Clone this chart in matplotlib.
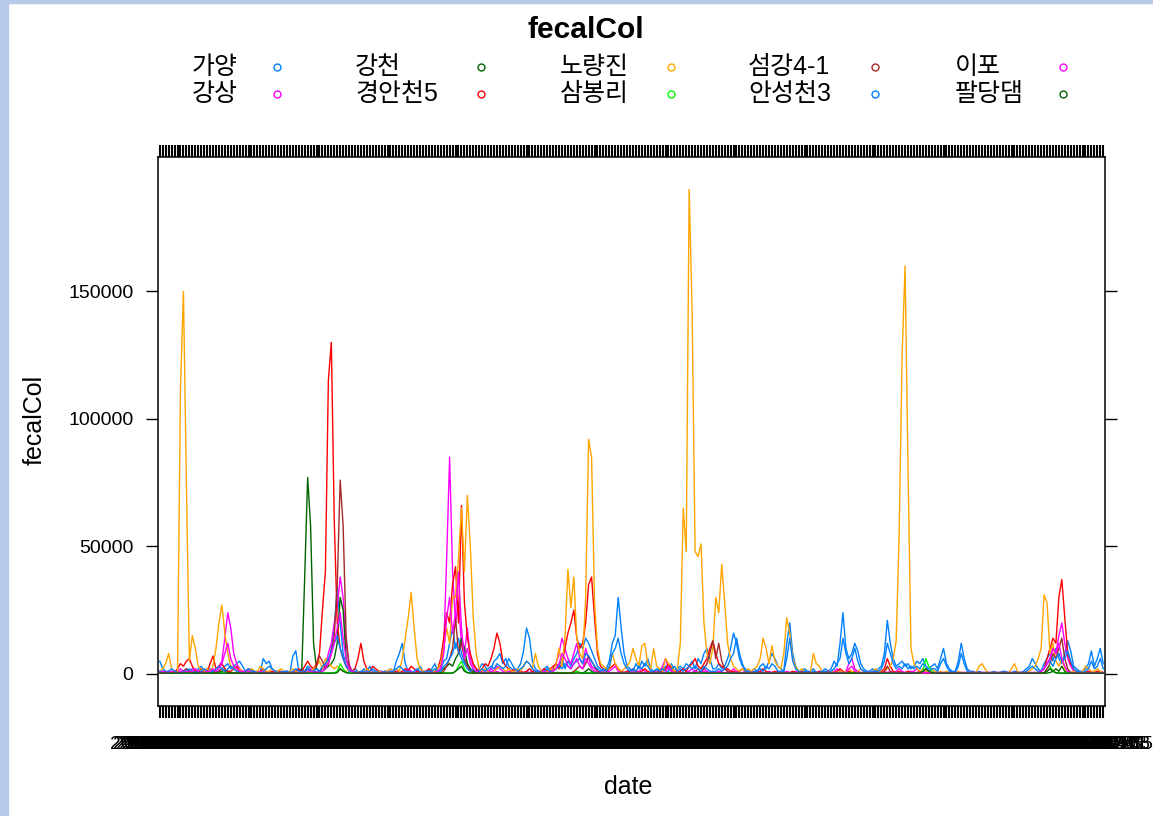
import numpy as np
import pandas as pd
import matplotlib
matplotlib.use("Agg")
import matplotlib.pyplot as plt
from matplotlib.lines import Line2D
from matplotlib.patches import Rectangle

plt.rcParams['font.family'] = ['Liberation Sans', 'Noto Sans CJK KR']

# weekly sampling dates (categorical x axis)
dates = pd.date_range("2010-01-04", periods=320, freq="7D").strftime("%Y-%m-%d").tolist()

# fecal coliform counts per station, in thousands
gayang = [
    5, 2, 1, 1, 0.8, 1, 1.5, 0.5, 1, 2, 1, 0.5, 1, 2, 3, 1, 1, 2, 1, 1,
    1, 2, 3, 4, 2, 3, 4, 5, 3, 1, 1, 2, 1, 0.5, 1, 6, 4, 5, 2, 1,
    1, 1, 0.5, 1, 0.5, 7, 9, 1, 2, 1, 3, 2, 1, 0.8, 1, 2, 3, 5, 10, 18,
    34, 20, 8, 3, 1, 1, 2, 1, 0.5, 2, 1, 3, 1, 0.5, 1, 1, 0.5, 1, 2, 1,
    5, 8, 12, 4, 1, 1, 0.5, 1, 3, 1, 0.5, 1, 2, 4, 1, 2, 5, 6, 12, 18,
    10, 14, 8, 5, 3, 2, 1, 1, 2, 4, 3, 1, 2, 5, 6, 8, 4, 6, 3, 2,
    1, 2, 4, 9, 18, 14, 5, 2, 1, 1, 2, 3, 1, 2, 4, 3, 6, 2, 5, 3,
    6, 8, 12, 10, 14, 12, 9, 6, 3, 2, 1, 2, 5, 12, 15, 30, 18, 8, 3, 2,
    1, 4, 2, 5, 3, 6, 2, 1, 1, 2, 1, 3, 2, 4, 1, 2, 3, 2, 4, 3,
    5, 2, 6, 4, 8, 10, 6, 2, 2, 4, 2, 3, 6, 10, 16, 12, 6, 3, 2, 1,
    1, 2, 1, 3, 4, 2, 5, 8, 6, 3, 2, 1, 12, 20, 8, 3, 1, 1, 2, 1,
    1, 2, 0.5, 1, 1, 2, 1, 2, 5, 3, 12, 24, 10, 6, 8, 12, 9, 4, 2, 1,
    1, 2, 1, 2, 3, 8, 21, 12, 6, 3, 4, 5, 3, 4, 2, 3, 5, 4, 6, 3,
    2, 3, 4, 2, 6, 10, 4, 2, 1, 1, 5, 12, 6, 2, 1, 1, 0.5, 1, 0.5, 0.5,
    0.5, 0.5, 1, 0.5, 0.5, 1, 1, 0.5, 0.5, 1, 1, 0.5, 1, 2, 3, 6, 4, 2, 1, 4,
    6, 8, 5, 10, 6, 4, 8, 13, 9, 3, 2, 1, 1, 2, 4, 9, 3, 6, 10, 4,
]
gangsang = [
    0.5, 0.5, 1, 0.5, 0.5, 0.5, 1, 2, 1, 0.5, 1, 2, 1, 0.5, 0.5, 1, 2, 1, 1, 2,
    3, 5, 14, 24, 18, 8, 4, 2, 1, 1, 2, 1, 0.5, 1, 0.5, 0.5, 1, 0.5, 0.5, 1,
    0.5, 0.5, 0.5, 1, 0.5, 0.5, 1, 0.5, 0.5, 0.5, 1, 2, 1, 0.5, 1, 2, 3, 8, 12, 20,
    26, 38, 30, 12, 4, 1, 1, 0.5, 0.5, 1, 0.5, 1, 0.5, 0.5, 0.5, 1, 0.5, 0.5, 1, 0.5,
    1, 0.5, 0.5, 1, 2, 1, 0.5, 1, 0.5, 0.5, 1, 1, 0.5, 1, 2, 3, 10, 45, 85, 40,
    20, 28, 12, 8, 18, 6, 3, 2, 1, 1, 0.5, 1, 2, 1, 3, 2, 1, 0.5, 1, 1,
    0.5, 0.5, 1, 0.5, 1, 0.5, 1, 0.5, 1, 1, 2, 1, 1, 2, 4, 8, 14, 10, 6, 4,
    8, 12, 6, 4, 10, 6, 3, 2, 1, 1, 0.5, 1, 1, 2, 3, 1, 1, 0.5, 1, 1,
    0.5, 1, 1, 2, 1, 0.5, 0.5, 1, 0.5, 1, 3, 6, 2, 1, 0.5, 1, 1, 2, 1, 1,
    2, 1, 0.5, 1, 2, 1, 0.5, 1, 0.5, 1, 1, 2, 1, 0.5, 2, 1, 0.5, 0.5, 1, 0.5,
    0.5, 0.5, 0.5, 1, 0.5, 0.5, 1, 0.5, 0.5, 1, 0.5, 0.5, 1, 0.5, 0.5, 1, 0.5, 0.5, 0.5, 0.5,
    0.5, 0.5, 0.5, 0.5, 1, 0.5, 0.5, 0.5, 1, 2, 1, 0.5, 1, 4, 6, 2, 1, 0.5, 0.5, 0.5,
    0.5, 0.5, 0.5, 0.5, 0.5, 1, 0.5, 1, 0.5, 1, 2, 1, 0.5, 1, 1, 1, 2, 1, 0.5, 1,
    0.5, 0.5, 0.5, 0.5, 0.5, 0.5, 0.5, 0.5, 0.5, 0.5, 0.5, 0.5, 0.5, 0.5, 0.5, 0.5, 0.5, 0.5, 0.5, 0.5,
    0.5, 0.5, 0.5, 0.5, 0.5, 0.5, 0.5, 0.5, 0.5, 0.5, 0.5, 0.5, 0.5, 0.5, 0.5, 0.5, 0.5, 0.5, 1, 2,
    4, 6, 10, 8, 15, 20, 12, 6, 3, 1, 0.5, 0.5, 0.5, 0.5, 1, 0.5, 0.5, 0.5, 1, 0.5,
]
gangcheon = [
    0.3, 0.3, 0.5, 0.3, 0.3, 0.5, 0.3, 0.5, 1, 0.5, 0.3, 0.3, 0.5, 0.3, 0.3, 0.3, 0.5, 0.3, 0.3, 0.5,
    0.5, 1, 1.5, 1, 0.5, 0.3, 0.3, 0.3, 0.3, 0.3, 0.3, 0.3, 0.3, 0.3, 0.3, 0.3, 0.3, 0.3, 0.3, 0.3,
    0.3, 0.3, 0.3, 0.3, 0.3, 0.3, 0.3, 0.3, 1, 38, 77, 58, 12, 2, 1, 1, 2, 3, 4, 6,
    12, 30, 25, 6, 2, 1, 0.5, 0.3, 0.3, 0.3, 0.3, 0.3, 0.3, 0.3, 0.3, 0.3, 0.3, 0.3, 0.3, 0.3,
    0.3, 0.3, 0.3, 0.3, 0.3, 0.3, 0.3, 0.3, 0.3, 0.3, 0.3, 0.3, 0.3, 0.3, 0.5, 1, 2, 3, 4, 3,
    6, 8, 14, 10, 4, 2, 1, 0.5, 0.3, 0.3, 0.3, 0.3, 0.3, 0.3, 0.3, 0.3, 0.3, 0.3, 0.3, 0.3,
    0.3, 0.3, 0.3, 0.3, 0.3, 0.3, 0.3, 0.3, 0.3, 0.3, 0.3, 0.3, 0.3, 0.3, 0.3, 0.3, 0.3, 0.3, 0.3, 0.3,
    0.5, 1, 0.5, 0.3, 1, 2, 1, 0.5, 0.3, 0.3, 0.3, 0.3, 0.3, 0.3, 0.3, 0.3, 0.3, 0.3, 0.3, 0.3,
    0.3, 0.3, 0.3, 0.3, 0.3, 0.3, 0.3, 0.3, 0.3, 0.3, 0.3, 0.3, 0.3, 0.3, 0.3, 0.3, 0.3, 0.3, 0.3, 0.3,
    0.3, 0.3, 0.5, 1, 0.5, 0.3, 0.3, 0.3, 0.3, 0.3, 0.3, 0.3, 0.3, 0.3, 0.3, 0.3, 0.3, 0.3, 0.3, 0.3,
    0.3, 0.3, 0.3, 0.3, 0.3, 0.3, 0.3, 0.3, 0.3, 0.3, 0.3, 0.3, 0.3, 0.3, 0.3, 0.3, 0.3, 0.3, 0.3, 0.3,
    0.3, 0.3, 0.3, 0.3, 0.3, 0.3, 0.3, 0.3, 0.3, 0.3, 0.3, 0.3, 0.3, 0.3, 0.3, 0.3, 0.3, 0.3, 0.3, 0.3,
    0.3, 0.3, 0.3, 0.3, 0.3, 0.3, 0.3, 0.3, 0.3, 0.3, 0.3, 0.3, 0.3, 0.3, 0.3, 0.3, 0.3, 0.3, 0.3, 0.3,
    0.3, 0.3, 0.3, 0.3, 0.3, 0.3, 0.3, 0.3, 0.3, 0.3, 0.3, 0.3, 0.3, 0.3, 0.3, 0.3, 0.3, 0.3, 0.3, 0.3,
    0.3, 0.3, 0.3, 0.3, 0.3, 0.3, 0.3, 0.3, 0.3, 0.3, 0.3, 0.3, 0.3, 0.3, 0.3, 0.3, 0.3, 0.3, 0.3, 0.3,
    0.3, 0.5, 1, 2, 1, 3, 1, 0.5, 0.3, 0.3, 0.3, 0.3, 0.3, 0.3, 0.3, 0.3, 0.3, 0.3, 0.3, 0.3,
]
gyeongan5 = [
    1, 0.5, 0.5, 1, 0.5, 0.5, 2, 4, 3, 5, 6, 3, 1, 1, 2, 1, 0.5, 4, 7, 2,
    3, 4, 2, 1, 1, 2, 3, 1, 0.5, 1, 2, 1, 1, 0.5, 1, 2, 1, 0.5, 1, 0.5,
    1, 0.5, 0.5, 1, 0.5, 0.5, 1, 2, 1, 3, 5, 3, 2, 4, 8, 25, 40, 115, 130, 60,
    20, 10, 6, 3, 2, 1, 2, 6, 12, 5, 2, 1, 3, 2, 1, 0.5, 1, 1, 0.5, 1,
    1, 0.5, 1, 2, 1, 3, 2, 1, 0.5, 1, 1, 2, 1, 0.5, 2, 6, 14, 24, 20, 35,
    42, 20, 66, 28, 14, 8, 4, 2, 1, 2, 4, 3, 6, 10, 16, 12, 5, 3, 2, 1,
    2, 1, 1, 0.5, 1, 2, 1, 1, 0.5, 1, 2, 1, 2, 3, 4, 2, 4, 10, 16, 20,
    25, 14, 10, 12, 20, 35, 38, 22, 8, 3, 2, 1, 2, 3, 4, 2, 1, 0.5, 1, 1,
    2, 1, 0.5, 1, 2, 1, 0.5, 1, 0.5, 1, 1, 2, 4, 2, 1, 0.5, 1, 2, 1, 3,
    4, 6, 3, 2, 4, 6, 10, 13, 8, 4, 3, 2, 2, 1, 1, 0.5, 1, 2, 1, 0.5,
    1, 0.5, 0.5, 1, 2, 1, 0.5, 0.5, 1, 0.5, 1, 0.5, 0.5, 0.5, 1, 0.5, 0.5, 1, 0.5, 0.5,
    0.5, 0.5, 0.5, 1, 0.5, 0.5, 1, 0.5, 0.5, 1, 2, 1, 0.5, 1, 0.5, 1, 0.5, 0.5, 0.5, 0.5,
    0.5, 0.5, 1, 0.5, 1, 2, 6, 3, 1, 0.5, 1, 0.5, 0.5, 1, 0.5, 0.5, 0.5, 1, 0.5, 0.5,
    0.5, 0.5, 0.5, 0.5, 0.5, 0.5, 0.5, 0.5, 0.5, 0.5, 0.5, 0.5, 0.5, 0.5, 0.5, 0.5, 0.5, 0.5, 0.5, 0.5,
    0.5, 0.5, 0.5, 0.5, 0.5, 0.5, 0.5, 0.5, 0.5, 0.5, 0.5, 0.5, 0.5, 0.5, 0.5, 0.5, 0.5, 0.5, 1, 2,
    6, 10, 14, 12, 30, 37, 22, 8, 4, 2, 1, 0.5, 0.5, 0.5, 1, 0.5, 0.5, 1, 0.5, 0.5,
]
noryangjin = [
    1, 2, 4, 8, 2, 1, 0.5, 112, 150, 75, 5, 15, 10, 3, 2, 1, 2, 1, 3, 10,
    20, 27, 16, 8, 3, 2, 1, 2, 1, 0.5, 1, 2, 1, 1, 3, 2, 1, 1, 2, 1,
    1, 2, 1, 0.5, 1, 2, 1, 0.5, 0.5, 1, 0.5, 1, 2, 3, 5, 2, 6, 4, 3, 2,
    3, 2, 1, 1, 2, 1, 0.5, 1, 0.5, 1, 2, 1, 0.5, 0.5, 1, 0.5, 1, 1, 2, 1,
    2, 1, 6, 14, 22, 32, 18, 6, 2, 1, 0.5, 1, 0.5, 1, 2, 4, 10, 18, 12, 30,
    30, 45, 65, 40, 70, 50, 22, 8, 2, 1, 2, 1, 0.5, 1, 2, 3, 2, 1, 2, 1,
    1, 2, 1, 3, 5, 4, 2, 8, 3, 1, 0.5, 1, 2, 1, 4, 10, 3, 14, 41, 26,
    38, 14, 8, 6, 30, 92, 85, 28, 10, 4, 3, 2, 2, 8, 4, 2, 1, 2, 3, 5,
    10, 6, 3, 11, 12, 4, 2, 10, 3, 2, 1, 6, 4, 3, 1, 2, 12, 65, 48, 190,
    142, 48, 46, 51, 20, 8, 4, 10, 30, 24, 43, 28, 12, 6, 3, 2, 1, 2, 1, 2,
    1, 2, 3, 6, 14, 10, 4, 11, 5, 3, 2, 8, 22, 16, 6, 3, 1, 2, 1, 0.5,
    0.5, 8, 4, 3, 1, 0.5, 0.5, 1, 0.5, 0.5, 1, 0.5, 1, 2, 1, 0.5, 1, 2, 1, 0.5,
    0.5, 1, 2, 1, 0.5, 1, 2, 3, 6, 13, 55, 125, 160, 80, 10, 4, 2, 1, 2, 1,
    1, 2, 1, 0.5, 1, 0.5, 1, 0.5, 0.5, 0.5, 1, 0.5, 0.5, 0.5, 0.5, 0.5, 0.5, 3, 4, 2,
    0.5, 0.5, 0.5, 0.5, 0.5, 0.5, 0.5, 0.5, 2, 4, 1, 0.5, 0.5, 0.5, 1, 2, 3, 6, 10, 31,
    28, 8, 12, 5, 3, 6, 2, 1, 0.5, 1, 0.5, 0.5, 1, 3, 2, 1, 1, 2, 1, 0.5,
]
sambongri = [
    0.3, 0.3, 0.3, 0.3, 0.3, 0.3, 0.3, 0.3, 0.3, 0.3, 0.3, 0.3, 0.3, 0.3, 0.3, 0.3, 0.3, 0.3, 0.3, 0.3,
    0.3, 0.3, 0.3, 0.3, 0.3, 0.3, 0.3, 0.3, 0.3, 0.3, 0.3, 0.3, 0.3, 0.3, 0.3, 0.3, 0.3, 0.3, 0.3, 0.3,
    0.3, 0.3, 0.3, 0.3, 0.3, 0.3, 0.3, 0.3, 0.3, 0.3, 0.3, 0.3, 0.3, 0.3, 0.3, 0.3, 0.3, 0.3, 0.3, 0.3,
    1, 4, 2, 0.5, 0.3, 0.3, 0.3, 0.3, 0.3, 0.3, 0.3, 0.3, 0.3, 0.3, 0.3, 0.3, 0.3, 0.3, 0.3, 0.3,
    0.3, 0.3, 0.3, 0.3, 0.3, 0.3, 0.3, 0.3, 0.3, 0.3, 0.3, 0.3, 0.3, 0.3, 0.3, 0.3, 0.3, 0.3, 0.3, 0.3,
    1, 3, 5, 2, 0.5, 0.3, 0.3, 0.3, 0.3, 0.3, 0.3, 0.3, 0.3, 0.3, 0.3, 0.3, 0.3, 0.3, 0.3, 0.3,
    0.3, 0.3, 0.3, 0.3, 0.3, 0.3, 0.3, 0.3, 0.3, 0.3, 0.3, 0.3, 0.3, 0.3, 0.3, 0.3, 0.3, 0.3, 0.3, 0.3,
    0.5, 1, 0.5, 0.3, 0.3, 0.3, 0.3, 0.3, 0.3, 0.3, 0.3, 0.3, 0.3, 0.3, 0.3, 0.3, 0.3, 0.3, 0.3, 0.3,
    0.3, 0.3, 0.3, 0.3, 0.3, 0.3, 0.3, 0.3, 0.3, 0.3, 0.3, 0.3, 0.3, 0.3, 0.3, 0.3, 0.3, 0.3, 0.3, 0.3,
    0.3, 0.3, 0.3, 0.3, 0.3, 0.3, 0.3, 0.3, 0.3, 0.3, 0.3, 0.3, 0.3, 0.3, 0.3, 0.3, 0.3, 0.3, 0.3, 0.3,
    0.3, 0.3, 0.3, 0.3, 0.3, 0.3, 0.3, 0.3, 0.3, 0.3, 0.3, 0.3, 0.3, 0.3, 0.3, 0.3, 0.3, 0.3, 0.3, 0.3,
    0.3, 0.3, 0.3, 0.3, 0.3, 0.3, 0.3, 0.3, 0.3, 0.3, 0.3, 0.3, 0.3, 0.3, 0.3, 0.3, 0.3, 0.3, 0.3, 0.3,
    0.3, 0.3, 0.3, 0.3, 0.3, 0.3, 0.3, 0.3, 0.3, 0.3, 0.3, 0.3, 0.3, 0.3, 0.3, 0.3, 0.3, 0.3, 1, 6,
    3, 1, 0.3, 0.3, 0.3, 0.3, 0.3, 0.3, 0.3, 0.3, 0.3, 0.3, 0.3, 0.3, 0.3, 0.3, 0.3, 0.3, 0.3, 0.3,
    0.3, 0.3, 0.3, 0.3, 0.3, 0.3, 0.3, 0.3, 0.3, 0.3, 0.3, 0.3, 0.3, 0.3, 0.3, 0.3, 0.3, 0.3, 0.3, 0.3,
    2, 3, 1, 0.3, 0.3, 0.3, 0.3, 0.3, 0.3, 0.3, 0.3, 0.3, 0.3, 0.3, 0.3, 0.3, 0.3, 0.3, 0.3, 0.3,
]
seomgang41 = [
    0.3, 0.3, 0.5, 0.3, 0.5, 1, 0.5, 0.3, 1, 2, 1, 0.5, 0.3, 0.5, 1, 0.5, 0.3, 0.5, 1, 0.5,
    1, 2, 1, 0.5, 0.3, 0.3, 0.5, 0.3, 0.3, 0.3, 0.3, 0.3, 0.3, 0.3, 0.3, 0.3, 0.3, 0.3, 0.3, 0.3,
    0.3, 0.3, 0.3, 0.3, 0.3, 0.3, 0.3, 0.3, 0.3, 1, 2, 1, 0.5, 3, 7, 5, 2, 4, 8, 15,
    35, 76, 58, 15, 3, 1, 0.5, 0.3, 0.3, 0.3, 0.3, 0.3, 0.3, 0.3, 0.3, 0.3, 0.3, 0.3, 0.3, 0.3,
    0.3, 0.3, 0.3, 0.3, 0.3, 0.3, 0.3, 0.3, 0.3, 0.3, 0.3, 0.3, 0.3, 0.3, 0.3, 0.3, 1, 3, 6, 10,
    22, 8, 12, 6, 3, 1, 0.5, 0.3, 0.3, 0.3, 0.3, 0.3, 0.3, 0.3, 0.3, 0.3, 0.3, 0.3, 0.3, 0.3,
    0.3, 0.3, 0.3, 0.3, 0.3, 0.3, 0.3, 0.3, 0.3, 0.3, 0.3, 0.3, 0.3, 0.3, 0.3, 0.3, 0.3, 0.3, 0.3, 0.3,
    1, 2, 3, 2, 4, 7, 5, 3, 1, 0.5, 0.3, 0.3, 0.3, 0.3, 0.3, 0.3, 0.3, 0.3, 0.3, 0.3,
    0.3, 0.3, 0.3, 0.3, 0.3, 0.3, 0.3, 0.3, 0.3, 0.3, 0.3, 0.3, 0.3, 0.3, 0.3, 0.3, 0.3, 0.3, 0.3, 0.3,
    0.5, 1, 2, 1, 2, 4, 8, 13, 6, 12, 5, 2, 1, 0.5, 0.3, 0.3, 0.3, 0.3, 0.3, 0.3,
    0.3, 0.3, 0.3, 0.3, 0.3, 0.3, 0.3, 0.3, 0.3, 0.3, 0.3, 0.3, 0.3, 0.3, 0.3, 0.3, 0.3, 0.3, 0.3, 0.3,
    0.3, 0.3, 0.3, 0.3, 0.3, 0.3, 0.3, 0.3, 0.3, 0.3, 0.3, 0.3, 0.3, 0.3, 0.3, 0.3, 0.3, 0.3, 0.3, 0.3,
    0.3, 0.3, 0.3, 0.3, 0.3, 1, 3, 1, 0.3, 0.3, 0.3, 0.3, 0.3, 0.3, 0.3, 0.3, 0.3, 0.3, 0.3, 0.3,
    0.3, 0.3, 0.3, 0.3, 0.3, 0.3, 0.3, 0.3, 0.3, 0.3, 0.3, 0.3, 0.3, 0.3, 0.3, 0.3, 0.3, 0.3, 0.3, 0.3,
    0.3, 0.3, 0.3, 0.3, 0.3, 0.3, 0.3, 0.3, 0.3, 0.3, 0.3, 0.3, 0.3, 0.3, 0.3, 0.3, 0.3, 0.3, 0.3, 0.3,
    2, 4, 8, 6, 10, 14, 6, 2, 0.5, 0.3, 0.3, 0.3, 0.3, 0.3, 0.3, 0.3, 0.3, 0.3, 0.3, 0.3,
]
anseong3 = [
    1, 1, 0.5, 1, 2, 1, 0.5, 0.5, 1, 1, 2, 1, 0.5, 1, 1, 2, 1, 0.5, 1, 2,
    3, 2, 1, 2, 3, 2, 1, 1, 0.5, 1, 2, 1, 1, 0.5, 0.5, 1, 2, 3, 2, 1,
    0.5, 0.5, 1, 1, 0.5, 1, 2, 1, 1, 0.5, 2, 1, 1, 2, 1, 3, 4, 6, 8, 12,
    15, 10, 6, 3, 2, 1, 1, 0.5, 1, 1, 0.5, 1, 2, 1, 0.5, 0.5, 1, 0.5, 1, 1,
    2, 3, 2, 1, 1, 0.5, 1, 2, 1, 0.5, 1, 1, 1, 2, 1, 1, 3, 4, 6, 8,
    12, 9, 6, 4, 2, 1, 2, 1, 1, 2, 1, 2, 3, 2, 4, 3, 2, 3, 6, 4,
    2, 1, 2, 3, 5, 4, 2, 1, 1, 0.5, 1, 2, 1, 1, 2, 3, 2, 4, 3, 2,
    4, 5, 6, 4, 8, 7, 5, 3, 2, 1, 2, 1, 3, 8, 10, 14, 8, 4, 2, 1,
    2, 1, 3, 2, 4, 3, 1, 1, 2, 1, 2, 1, 1, 2, 3, 1, 2, 1, 2, 3,
    2, 3, 2, 1, 3, 2, 1, 1, 1, 2, 1, 2, 3, 6, 8, 14, 8, 4, 1, 1,
    0.5, 1, 1, 2, 1, 3, 2, 4, 3, 1, 1, 1, 6, 14, 5, 2, 1, 0.5, 1, 1,
    0.5, 1, 0.5, 0.5, 1, 1, 0.5, 1, 2, 4, 6, 14, 8, 4, 6, 10, 5, 2, 1, 1,
    0.5, 1, 1, 1, 2, 5, 12, 8, 4, 2, 3, 2, 4, 2, 3, 2, 3, 2, 4, 3,
    1, 2, 2, 1, 4, 6, 3, 1, 1, 0.5, 3, 8, 4, 1, 0.5, 0.5, 0.5, 0.5, 0.5, 0.5,
    0.5, 0.5, 0.5, 0.5, 0.5, 0.5, 0.5, 0.5, 0.5, 0.5, 0.5, 0.5, 0.5, 1, 2, 3, 2, 1, 1, 2,
    4, 5, 3, 6, 8, 5, 6, 9, 5, 2, 1, 1, 0.5, 1, 2, 5, 2, 3, 6, 2,
]
ipo = [
    0.5, 1, 0.5, 0.5, 1, 0.5, 0.5, 1, 0.5, 1, 0.5, 1, 2, 1, 0.5, 0.5, 1, 1, 2, 1,
    2, 4, 8, 12, 6, 3, 2, 1, 1, 0.5, 1, 0.5, 0.5, 0.5, 1, 0.5, 0.5, 0.5, 0.5, 0.5,
    0.5, 0.5, 0.5, 0.5, 0.5, 0.5, 0.5, 0.5, 0.5, 0.5, 0.5, 1, 0.5, 0.5, 0.5, 1, 2, 4, 8, 12,
    18, 24, 14, 6, 2, 1, 0.5, 0.5, 0.5, 0.5, 0.5, 0.5, 0.5, 0.5, 0.5, 0.5, 0.5, 0.5, 0.5, 0.5,
    0.5, 0.5, 0.5, 0.5, 0.5, 0.5, 0.5, 0.5, 0.5, 0.5, 0.5, 0.5, 0.5, 0.5, 1, 2, 8, 22, 30, 16,
    24, 40, 18, 6, 10, 4, 2, 1, 0.5, 0.5, 0.5, 0.5, 1, 0.5, 1, 0.5, 0.5, 0.5, 0.5, 0.5,
    0.5, 0.5, 0.5, 0.5, 0.5, 0.5, 0.5, 0.5, 0.5, 0.5, 1, 0.5, 0.5, 1, 2, 4, 8, 6, 3, 2,
    4, 6, 3, 2, 6, 4, 2, 1, 0.5, 0.5, 0.5, 0.5, 0.5, 0.5, 0.5, 0.5, 0.5, 0.5, 0.5, 0.5,
    0.5, 0.5, 0.5, 0.5, 0.5, 0.5, 0.5, 0.5, 0.5, 0.5, 0.5, 0.5, 3, 1, 0.5, 0.5, 0.5, 0.5, 0.5, 0.5,
    0.5, 1, 0.5, 0.5, 1, 0.5, 0.5, 0.5, 0.5, 0.5, 0.5, 0.5, 0.5, 0.5, 0.5, 0.5, 0.5, 0.5, 0.5, 0.5,
    0.5, 0.5, 0.5, 0.5, 0.5, 0.5, 0.5, 0.5, 0.5, 0.5, 0.5, 0.5, 0.5, 0.5, 0.5, 0.5, 0.5, 0.5, 0.5, 0.5,
    0.5, 0.5, 0.5, 0.5, 0.5, 0.5, 0.5, 0.5, 0.5, 0.5, 0.5, 0.5, 0.5, 2, 3, 1, 0.5, 0.5, 0.5, 0.5,
    0.5, 0.5, 0.5, 0.5, 0.5, 0.5, 0.5, 0.5, 0.5, 0.5, 0.5, 0.5, 0.5, 0.5, 0.5, 0.5, 0.5, 0.5, 0.5, 0.5,
    0.5, 0.5, 0.5, 0.5, 0.5, 0.5, 0.5, 0.5, 0.5, 0.5, 0.5, 0.5, 0.5, 0.5, 0.5, 0.5, 0.5, 0.5, 0.5, 0.5,
    0.5, 0.5, 0.5, 0.5, 0.5, 0.5, 0.5, 0.5, 0.5, 0.5, 0.5, 0.5, 0.5, 0.5, 0.5, 0.5, 0.5, 0.5, 1, 2,
    4, 6, 10, 8, 12, 6, 3, 1, 0.5, 0.5, 0.5, 0.5, 0.5, 0.5, 0.5, 0.5, 0.5, 0.5, 0.5, 0.5,
]
paldang = [
    0.3, 0.3, 0.3, 0.3, 0.3, 0.3, 0.3, 0.3, 0.3, 0.3, 0.3, 0.3, 0.3, 0.3, 0.3, 0.3, 0.3, 0.3, 0.3, 0.3,
    0.3, 0.3, 0.3, 0.3, 0.3, 0.3, 0.3, 0.3, 0.3, 0.3, 0.3, 0.3, 0.3, 0.3, 0.3, 0.3, 0.3, 0.3, 0.3, 0.3,
    0.3, 0.3, 0.3, 0.3, 0.3, 0.3, 0.3, 0.3, 0.3, 0.3, 0.3, 0.3, 0.3, 0.3, 0.3, 0.3, 0.3, 0.3, 0.3, 0.3,
    0.5, 2, 1, 0.5, 0.3, 0.3, 0.3, 0.3, 0.3, 0.3, 0.3, 0.3, 0.3, 0.3, 0.3, 0.3, 0.3, 0.3, 0.3, 0.3,
    0.3, 0.3, 0.3, 0.3, 0.3, 0.3, 0.3, 0.3, 0.3, 0.3, 0.3, 0.3, 0.3, 0.3, 0.3, 0.3, 0.3, 0.3, 0.3, 0.3,
    1, 2, 3, 1, 0.5, 0.3, 0.3, 0.3, 0.3, 0.3, 0.3, 0.3, 0.3, 0.3, 0.3, 0.3, 0.3, 0.3, 0.3, 0.3,
    0.3, 0.3, 0.3, 0.3, 0.3, 0.3, 0.3, 0.3, 0.3, 0.3, 0.3, 0.3, 0.3, 0.3, 0.3, 0.3, 0.3, 0.3, 0.3, 0.3,
    0.3, 0.3, 0.3, 0.3, 0.3, 0.3, 0.3, 0.3, 0.3, 0.3, 0.3, 0.3, 0.3, 0.3, 0.3, 0.3, 0.3, 0.3, 0.3, 0.3,
    0.3, 0.3, 0.3, 0.3, 0.3, 0.3, 0.3, 0.3, 0.3, 0.3, 0.3, 0.3, 0.3, 0.3, 0.3, 0.3, 0.3, 0.3, 0.3, 0.3,
    0.3, 0.3, 0.3, 0.3, 0.3, 0.3, 0.3, 0.3, 0.3, 0.3, 0.3, 0.3, 0.3, 0.3, 0.3, 0.3, 0.3, 0.3, 0.3, 0.3,
    0.3, 0.3, 0.3, 0.3, 0.3, 0.3, 0.3, 0.3, 0.3, 0.3, 0.3, 0.3, 0.3, 0.3, 0.3, 0.3, 0.3, 0.3, 0.3, 0.3,
    0.3, 0.3, 0.3, 0.3, 0.3, 0.3, 0.3, 0.3, 0.3, 0.3, 0.3, 0.3, 0.3, 0.3, 0.3, 0.3, 0.3, 0.3, 0.3, 0.3,
    0.3, 0.3, 0.3, 0.3, 0.3, 0.3, 0.3, 0.3, 0.3, 0.3, 0.3, 0.3, 0.3, 0.3, 0.3, 0.3, 0.3, 0.5, 1, 2,
    1, 0.5, 0.3, 0.3, 0.3, 0.3, 0.3, 0.3, 0.3, 0.3, 0.3, 0.3, 0.3, 0.3, 0.3, 0.3, 0.3, 0.3, 0.3, 0.3,
    0.3, 0.3, 0.3, 0.3, 0.3, 0.3, 0.3, 0.3, 0.3, 0.3, 0.3, 0.3, 0.3, 0.3, 0.3, 0.3, 0.3, 0.3, 0.3, 0.3,
    1, 2, 1, 0.5, 0.3, 0.3, 0.3, 0.3, 0.3, 0.3, 0.3, 0.3, 0.3, 0.3, 0.3, 0.3, 0.3, 0.3, 0.3, 0.3,
]

stations = ["가양", "강상", "강천", "경안천5", "노량진", "삼봉리", "섬강4-1", "안성천3", "이포", "팔당댐"]
series = [gayang, gangsang, gangcheon, gyeongan5, noryangjin,
          sambongri, seomgang41, anseong3, ipo, paldang]
# lattice superpose colours, recycled after seven groups
palette = ["#0080ff", "#ff00ff", "darkgreen", "#ff0000", "orange", "#00ff00", "brown"]
colors = [palette[i % len(palette)] for i in range(len(stations))]

W, H = 1153, 816
fig = plt.figure(figsize=(W / 100, H / 100), dpi=100)

# window frame strips
fig.patches.append(Rectangle((0, 0), 8 / W, 1, transform=fig.transFigure, color="#b5c9e8", zorder=0))
fig.patches.append(Rectangle((0, 1 - 3 / H), 1, 3 / H, transform=fig.transFigure, color="#b5c9e8", zorder=0))

ax = fig.add_axes([158 / W, 1 - 706 / H, (1105 - 158) / W, (706 - 157) / H])
x = np.arange(len(dates))
for name, vals, col in zip(stations, series, colors):
    assert len(vals) == len(dates), name
    ax.plot(x, np.array(vals) * 1000, color=col, lw=1.0)

ax.set_xlim(-0.6, len(dates) - 0.4)
ax.set_ylim(-12600, 202700)
ax.set_yticks([0, 50000, 100000, 150000])
ax.set_yticklabels(["0", "50000", "100000", "150000"])
ax.set_xticks(x)
ax.set_xticklabels(dates)
ax.tick_params(axis="y", left=True, right=True, direction="out", length=8.6,
               width=1.0, labelsize=14, pad=9)
ax.tick_params(axis="x", top=True, bottom=True, direction="out", length=8.6,
               width=1.5, labelsize=14, pad=13)
for sp in ax.spines.values():
    sp.set_linewidth(1.1)

fig.text(586 / W, 1 - 30 / H, "fecalCol", fontsize=21.6, fontweight="bold",
         ha="center", va="center")
fig.text(35 / W, 1 - 420 / H, "fecalCol", fontsize=18, rotation=90,
         ha="center", va="center")
fig.text(628 / W, 1 - 787 / H, "date", fontsize=18, ha="center", va="center")

# legend: five columns, two rows, filled column by column
text_x = [192, 355, 560, 748, 955]
key_x = [277, 481, 671, 875, 1063]
row_y = [67, 94]
for k, (name, col) in enumerate(zip(stations, colors)):
    c, r = divmod(k, 2)
    fig.text(text_x[c] / W, 1 - row_y[r] / H, name, fontsize=18, ha="left", va="center")
    fig.add_artist(Line2D([key_x[c] / W], [1 - row_y[r] / H], transform=fig.transFigure,
                          marker="o", markersize=5, markerfacecolor="none",
                          markeredgecolor=col, markeredgewidth=1.0, linestyle="none"))

fig.savefig("out.png", dpi=100)
